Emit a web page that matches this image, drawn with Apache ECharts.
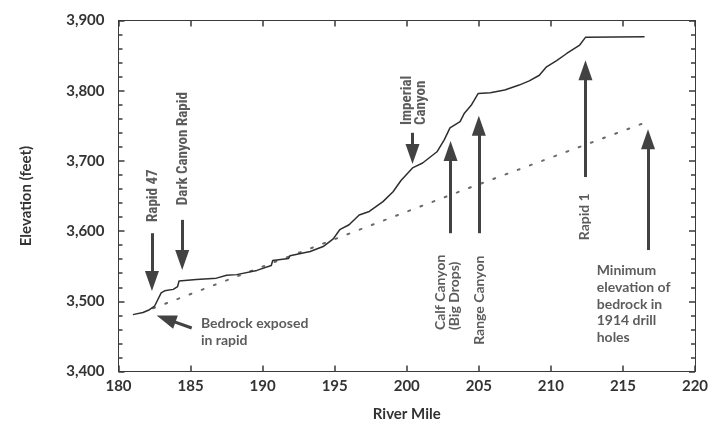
<!DOCTYPE html>
<html>
<head>
<meta charset="utf-8">
<script src="https://cdn.jsdelivr.net/npm/echarts@6/dist/echarts.min.js"></script>
<style>
  html, body { margin: 0; padding: 0; background: #fff; }
  #chart { width: 719px; height: 432px; }
</style>
</head>
<body>
<div id="chart"></div>
<script>
// river profile, [river mile, elevation ft]
var profile = [
  [181.0, 3481], [181.7, 3484], [182.15, 3488], [182.5, 3493], [182.96, 3512],
  [183.2, 3515], [183.8, 3517], [184.1, 3521], [184.2, 3529], [185.4, 3531],
  [186.8, 3533], [187.5, 3537], [188.2, 3538], [189.6, 3544], [190.6, 3551],
  [190.7, 3558], [191.8, 3561], [191.9, 3565], [193.3, 3571], [194.2, 3578],
  [194.9, 3589], [195.35, 3602], [196.0, 3609], [196.7, 3623], [197.4, 3628],
  [198.35, 3642], [199.05, 3656], [199.6, 3672], [200.4, 3690], [201.1, 3697],
  [202.1, 3713], [202.6, 3730], [203.0, 3747], [203.7, 3756], [204.0, 3768],
  [204.5, 3780], [204.95, 3796], [205.8, 3797], [206.8, 3801], [207.8, 3808],
  [208.5, 3814], [209.2, 3822], [209.7, 3834], [210.4, 3843], [211.1, 3853],
  [212.0, 3865], [212.4, 3876], [216.5, 3877]
];

// minimum bedrock elevation (dotted)
var bedrock = [[182.4, 3490], [193.4, 3576], [204.0, 3659], [216.6, 3755]];

// arrows: tail point and head point (mile, elevation)
var arrowNames = ['Rapid 47', 'Dark Canyon Rapid', 'Imperial Canyon', 'Calf Canyon', 'Range Canyon', 'Rapid 1', 'Minimum', 'Bedrock'];
var arrowFrom = [[182.32, 3597], [184.42, 3616], [200.40, 3740], [203.04, 3597], [205.0, 3597], [212.40, 3677], [216.74, 3573], [185.08, 3462]];
var arrowTo   = [[182.32, 3529], [184.42, 3559], [200.40, 3710], [203.04, 3714], [205.0, 3750], [212.40, 3829], [216.74, 3731], [183.30, 3475]];

// rotated labels, anchored at the start (bottom) of the text
var vLabels = [
  ['Rapid 47', 182.40, 3613, 'narrow'],
  ['Dark Canyon Rapid', 184.48, 3637, 'narrow'],
  ['Imperial\nCanyon', 200.53, 3751, 'narrow'],
  ['Calf Canyon\n(Big Drops)', 202.85, 3459, 'myriad'],
  ['Range Canyon', 205.07, 3438, 'myriad'],
  ['Rapid 1', 212.35, 3587, 'myriad']
];
// horizontal labels, anchored at left / vertical middle
var hLabels = [
  ['Bedrock exposed\nin rapid', 185.72, 3456],
  ['Minimum\nelevation of\nbedrock in\n1914 drill\nholes', 213.18, 3496]
];

var xTicks = [180, 185, 190, 195, 200, 205, 210, 215, 220];
var yTicks = [3400, 3500, 3600, 3700, 3800, 3900];

var ink = '#333';
var tickColor = '#3a3a3a';
var fontMain = 'Lato, "Open Sans", sans-serif';
var fontNarrow = '"Liberation Sans Narrow", "Roboto Condensed", Lato, sans-serif';

function comma(v) {
  var s = String(v);
  return s.length > 3 ? s.slice(0, s.length - 3) + ',' + s.slice(-3) : s;
}

var dom = document.getElementById('chart');
var myChart = echarts.init(dom);

var gridLeft = 118.5, gridRight = 24;
var plotWidth = 719 - gridLeft - gridRight;

var xMin = xTicks[0], xMax = xTicks[xTicks.length - 1];
var yMin = yTicks[0], yMax = yTicks[yTicks.length - 1];

function tick(len, inside) {
  return { show: true, inside: inside, length: len, lineStyle: { color: tickColor, width: 1.5 } };
}
// tick-only y axis; a right axis shifted onto the left edge draws its ticks into the plot
function yTickAxis(interval, len, atLeft) {
  return {
    type: 'value', min: yMin, max: yMax, interval: interval, position: 'right',
    offset: atLeft ? -plotWidth : 0,
    splitLine: { show: false }, axisLine: { show: false },
    axisTick: tick(len, !atLeft), axisLabel: { show: false }
  };
}

var option = {
  animation: false,
  backgroundColor: '#fff',
  grid: { left: gridLeft, right: gridRight, top: 20.5, bottom: 60.5, containLabel: false },
  xAxis: [
    {
      type: 'value', min: xMin, max: xMax, interval: 5, position: 'bottom',
      name: 'River Mile', nameLocation: 'middle', nameGap: 35,
      nameTextStyle: { fontFamily: fontMain, fontWeight: 'bold', fontSize: 15, color: ink },
      splitLine: { show: false },
      axisLine: { show: true, onZero: false, lineStyle: { color: tickColor, width: 1 } },
      axisTick: tick(6, true),
      axisLabel: { show: true, margin: 7, fontFamily: fontMain, fontWeight: 'bold', fontSize: 15, color: ink }
    },
    {
      type: 'value', min: xMin, max: xMax, interval: 5, position: 'top',
      splitLine: { show: false },
      axisLine: { show: true, onZero: false, lineStyle: { color: tickColor, width: 1 } },
      axisTick: tick(6, true),
      axisLabel: { show: false }
    }
  ],
  yAxis: [
    {
      type: 'value', min: yMin, max: yMax, interval: 100, position: 'left',
      name: 'Elevation (feet)', nameLocation: 'middle', nameGap: 85,
      nameTextStyle: { fontFamily: fontMain, fontWeight: 'bold', fontSize: 15, color: ink },
      splitLine: { show: false },
      axisLine: { show: true, onZero: false, lineStyle: { color: tickColor, width: 1 } },
      axisTick: { show: false },
      axisLabel: { show: true, margin: 14, fontFamily: fontMain, fontWeight: 'bold', fontSize: 15, color: ink, formatter: comma }
    },
    {
      type: 'value', min: yMin, max: yMax, interval: 100, position: 'right',
      splitLine: { show: false },
      axisLine: { show: true, onZero: false, lineStyle: { color: tickColor, width: 1 } },
      axisTick: tick(6, true),
      axisLabel: { show: false }
    },
    yTickAxis(20, 4, false),
    yTickAxis(100, 6, true),
    yTickAxis(20, 4, true)
  ],
  series: [
    {
      type: 'line',
      name: 'Profile',
      data: profile,
      symbol: 'none',
      lineStyle: { color: '#2e2e2e', width: 1.5 },
      z: 3
    },
    {
      type: 'line',
      name: 'Bedrock',
      data: bedrock,
      symbol: 'none',
      lineStyle: { color: '#6a6a6a', width: 2, type: [2, 11], cap: 'round' },
      markLine: {
        silent: true,
        symbol: ['none', 'triangle'],
        symbolSize: [14, 20],
        label: { show: false },
        lineStyle: { color: '#424242', width: 3, type: 'solid' },
        data: arrowNames.map(function (n, i) {
          return [{ name: n, coord: arrowFrom[i] }, { coord: arrowTo[i] }];
        })
      },
      z: 2
    },
    {
      type: 'scatter',
      name: 'vLabels',
      symbolSize: 0,
      silent: true,
      data: vLabels.map(function (l) {
        return {
          value: [l[1], l[2]],
          name: l[0],
          label: l[3] === 'narrow'
            ? { fontFamily: fontNarrow, fontWeight: 'bold', fontSize: 15 }
            : { fontFamily: fontMain, fontWeight: 'bold', fontSize: 14 }
        };
      }),
      label: {
        show: true,
        position: 'inside',
        rotate: 90,
        align: 'left',
        verticalAlign: 'middle',
        lineHeight: 14,
        formatter: function (p) { return p.name; },
        color: ink
      }
    },
    {
      type: 'scatter',
      name: 'hLabels',
      symbolSize: 0,
      silent: true,
      data: hLabels.map(function (l) { return { value: [l[1], l[2]], name: l[0] }; }),
      label: {
        show: true,
        position: 'inside',
        align: 'left',
        verticalAlign: 'middle',
        lineHeight: 16.6,
        fontFamily: fontMain,
        fontWeight: 'bold',
        fontSize: 14,
        formatter: function (p) { return p.name; },
        color: ink
      }
    }
  ]
};

myChart.setOption(option, true);
</script>
</body>
</html>
